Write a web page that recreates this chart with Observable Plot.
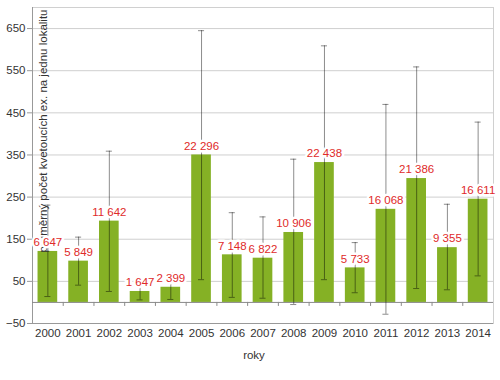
<!DOCTYPE html>
<html>
<head>
<meta charset="utf-8">
<script src="https://cdn.jsdelivr.net/npm/d3@7"></script>
<script src="https://cdn.jsdelivr.net/npm/@observablehq/plot@0.6"></script>
<style>
  html, body { margin: 0; padding: 0; background: #fff; }
  svg { display: block; font-family: "Liberation Sans", Arial, sans-serif; }
</style>
</head>
<body>
<div id="chart"></div>
<script>
const years = ["2000","2001","2002","2003","2004","2005","2006","2007","2008","2009","2010","2011","2012","2013","2014"];
const means = [121, 98, 193, 26, 36, 350, 113, 105, 166, 332, 82, 221, 294, 130, 245];
const errLow = [14, 41, 26, 6, 7, 54, 12, 10, -5, 54, 23, -28, 33, 30, 63];
const errHigh = [231, 155, 359, 51, 71, 645, 213, 203, 340, 609, 142, 470, 559, 233, 428];
const totals = ["6 647","5 849","11 642","1 647","2 399","22 296","7 148","6 822","10 906","22 438","5 733","16 068","21 386","9 355","16 611"];
const yTicks = [-50, 50, 150, 250, 350, 450, 550, 650];
const yTitle = "průměrný počet kvetoucích ex. na jednu lokalitu";
const xTitle = "roky";

const data = years.map((y, i) => ({year: y, mean: means[i], lo: errLow[i], hi: errHigh[i], label: totals[i]}));

const W = 500, H = 380, mL = 32, mR = 7, mT = 7, mB = 57;
const step = (W - mL - mR) / years.length;
const gray = "#000";

const chart = Plot.plot({
  width: W, height: H,
  marginLeft: mL, marginRight: mR, marginTop: mT, marginBottom: mB,
  style: {fontFamily: "'Liberation Sans', Arial, sans-serif", fontSize: "11px", color: "#333", background: "#fff"},
  x: {type: "band", domain: years, paddingInner: 0.36, paddingOuter: 0.18, round: false, label: null},
  y: {domain: [-50, 700], label: null},
  marks: [
    Plot.gridY(yTicks.slice(1), {stroke: "#cfcfcf", strokeOpacity: 1}),
    Plot.frame({stroke: "#d0d0d0"}),
    Plot.ruleY([-50], {stroke: "#999"}),
    Plot.ruleX([years[0]], {dx: -step / 2, stroke: "#999"}),
    Plot.axisY({ticks: yTicks, tickSize: 5, tickPadding: 2, stroke: "#999", fill: "#333", fontSize: 11.5, label: null}),
    Plot.axisX({tickSize: 0, tickPadding: 5, fill: "#333", fontSize: 11.5, label: null}),
    Plot.barY(data, {x: "year", y: "mean", fill: "#85b125"}),
    Plot.ruleY([0], {stroke: "#8a8a8a"}),
    Plot.ruleX(years.slice(1), {x: d => d, y1: 0, y2: 0, dx: -step / 2, insetBottom: -4, stroke: "#8a8a8a"}),
    Plot.ruleX(data, {x: "year", y1: "lo", y2: "hi", stroke: gray, strokeOpacity: 0.45}),
    Plot.tickY(data, {x: "year", y: "hi", stroke: gray, strokeOpacity: 0.45, insetLeft: 6.8, insetRight: 6.8}),
    Plot.tickY(data, {x: "year", y: "lo", stroke: gray, strokeOpacity: 0.45, insetLeft: 6.8, insetRight: 6.8}),
    Plot.text([yTitle], {frameAnchor: "top-left", rotate: -90, textAnchor: "end", dx: 6, dy: 2, fill: "#333", fontSize: 11.5}),
    Plot.text(data, {x: "year", y: "mean", text: "label", dy: -9, fill: "#e02a2a", stroke: "white", strokeWidth: 5, strokeLinejoin: "round", fontSize: 11.5, fontWeight: 500}),
    Plot.text([xTitle], {frameAnchor: "bottom", dy: 35, dx: -9, fill: "#333", fontSize: 11.5})
  ]
});
document.getElementById("chart").appendChild(chart);
</script>
</body>
</html>
